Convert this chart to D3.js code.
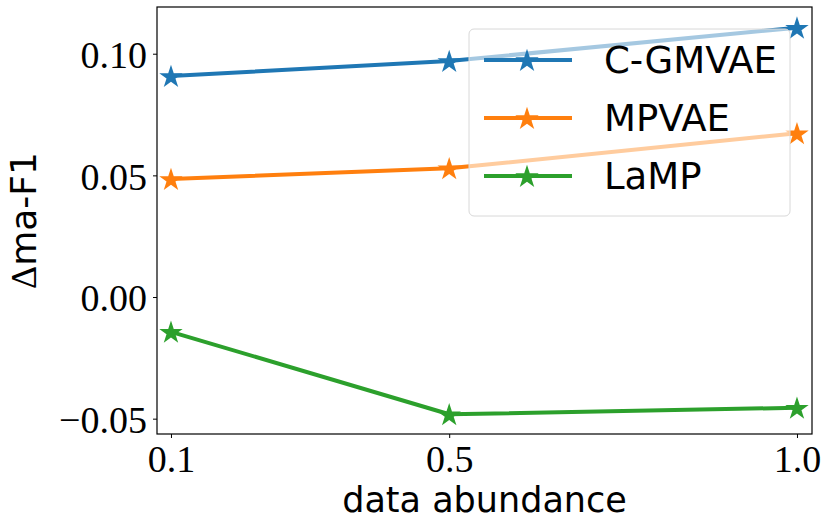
<!DOCTYPE html>
<html><head><meta charset="utf-8">
<script src="https://cdn.jsdelivr.net/npm/d3@7"></script>
<style>body{margin:0;background:#fff}</style>
</head><body>
<svg id="c" width="830" height="528"></svg>
<script>
const abundance = [0.1, 0.5, 1.0];
const seriesNames = ["C-GMVAE", "MPVAE", "LaMP"];
const cgmvae = [0.0908, 0.0970, 0.1107];
const mpvae = [0.0485, 0.0529, 0.0673];
const lamp = [-0.0143, -0.0482, -0.0455];
const colors = ["#1f77b4", "#ff7f0e", "#2ca02c"];
const xTicks = [0.1, 0.5, 1.0];
const yTicks = [-0.05, 0.00, 0.05, 0.10];

const series = [cgmvae, mpvae, lamp];
const svg = d3.select("#c");
const L = 157, R = 812, T = 7, B = 434;
const x = d3.scaleLinear().domain([0.0799, 1.0216]).range([L, R]);
const y = d3.scaleLinear().domain([-0.0563, 0.1192]).range([B, T]);

const serif = "'Liberation Serif','DejaVu Serif',serif";
const sans = "'DejaVu Sans',sans-serif";

// lines and markers
const line = d3.line().x((d, i) => x(abundance[i])).y(d => y(d));
const star = d3.symbol().type(d3.symbolStar).size(170);
series.forEach((s, k) => {
  svg.append("path").attr("d", line(s)).attr("fill", "none")
    .attr("stroke", colors[k]).attr("stroke-width", 4).attr("stroke-linejoin", "round");
  svg.selectAll(null).data(s).enter().append("path")
    .attr("d", star)
    .attr("transform", (d, i) => `translate(${x(abundance[i])},${y(d) + 1})`)
    .attr("fill", colors[k]);
});

// frame
svg.append("rect").attr("x", L).attr("y", T).attr("width", R - L).attr("height", B - T)
  .attr("fill", "none").attr("stroke", "#000").attr("stroke-width", 1.2);

// axes
const xAxis = d3.axisBottom(x).tickValues(xTicks).tickSize(4).tickPadding(7).tickFormat(d3.format(".1f"));
const gx = svg.append("g").attr("transform", `translate(0,${B})`).call(xAxis);
gx.select(".domain").remove();
gx.selectAll("text").attr("font-family", serif).attr("font-size", 38).attr("fill", "#000").attr("dy", "0.72em");

const yAxis = d3.axisLeft(y).tickValues(yTicks).tickSize(4).tickPadding(6)
  .tickFormat(d => (d < 0 ? "\u2212" : "") + d3.format(".2f")(Math.abs(d)));
const gy = svg.append("g").attr("transform", `translate(${L},0)`).call(yAxis);
gy.select(".domain").remove();
gy.selectAll("text").attr("font-family", serif).attr("font-size", 38).attr("fill", "#000").attr("dy", "0.36em");

// axis labels
svg.append("text").attr("x", (L + R) / 2).attr("y", 512).attr("text-anchor", "middle")
  .attr("font-family", sans).attr("font-size", 35).text("data abundance");
const yl = svg.append("text").attr("transform", `translate(36,${(T + B) / 2}) rotate(-90)`)
  .attr("text-anchor", "middle").attr("font-family", sans).attr("font-size", 36);
yl.append("tspan").attr("font-family", serif).text("\u0394");
yl.append("tspan").text("ma-F1");

// legend
const lg = svg.append("g");
lg.append("rect").attr("x", 469).attr("y", 29).attr("width", 321).attr("height", 187)
  .attr("rx", 5).attr("fill", "#fff").attr("fill-opacity", 0.6)
  .attr("stroke", "#d8d8d8").attr("stroke-width", 1);
const rowsY = [60, 118, 176];
seriesNames.forEach((n, k) => {
  lg.append("line").attr("x1", 484).attr("x2", 572).attr("y1", rowsY[k]).attr("y2", rowsY[k])
    .attr("stroke", colors[k]).attr("stroke-width", 4);
  lg.append("path").attr("d", star).attr("transform", `translate(527,${rowsY[k] + 1})`).attr("fill", colors[k]);
  lg.append("text").attr("x", 604).attr("y", rowsY[k]).attr("dy", "0.36em")
    .attr("font-family", sans).attr("font-size", 37).text(n);
});
</script>
</body></html>
